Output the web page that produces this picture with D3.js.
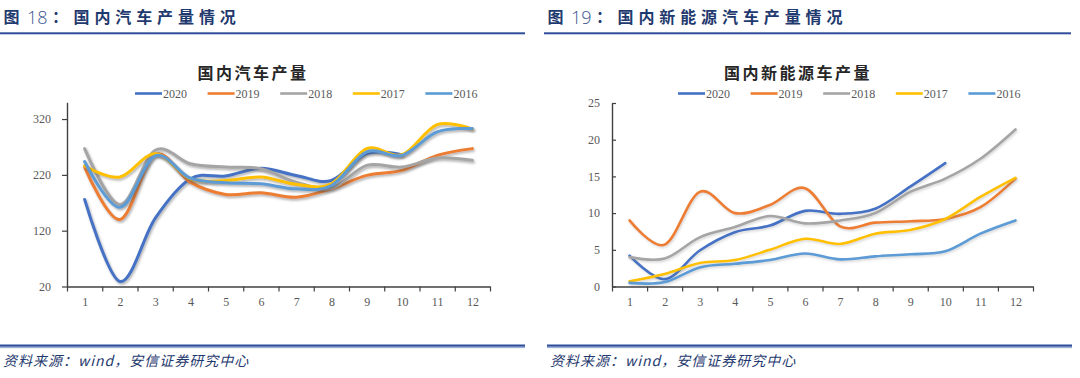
<!DOCTYPE html>
<html>
<head>
<meta charset="utf-8">
<script src="https://cdn.jsdelivr.net/npm/d3@7/dist/d3.min.js"></script>
<style>
  html, body { margin: 0; padding: 0; background: #ffffff; }
  svg { display: block; }
</style>
</head>
<body>
<svg id="chart" width="1080" height="378"></svg>
<script>
// ---------- DATA ----------
const months = [1, 2, 3, 4, 5, 6, 7, 8, 9, 10, 11, 12];
const seriesNames = ["2020", "2019", "2018", "2017", "2016"];
const seriesColors = ["#4472C4", "#ED7D31", "#A5A5A5", "#FFC000", "#5B9BD5"];

// 国内汽车产量 (万辆)
const car2020 = [176, 29, 142, 213, 218, 232, 219, 210, 258, 256];
const car2019 = [234, 140, 256, 207, 185, 188, 180, 195, 219, 228, 255, 267];
const car2018 = [267, 167, 264, 240, 234, 231, 207, 196, 237, 234, 250, 246];
const car2017 = [236, 216, 258, 213, 210, 216, 203, 204, 267, 256, 310, 302];
const car2016 = [244, 162, 254, 214, 206, 204, 195, 201, 261, 255, 297, 303];
const carTicks = [20, 120, 220, 320];

// 国内新能源车产量 (万辆)
const nev2020 = [4.2, 1.0, 4.9, 7.4, 8.3, 10.3, 9.9, 10.6, 13.6, 16.8];
const nev2019 = [9.0, 5.7, 12.9, 10.0, 11.1, 13.4, 8.2, 8.7, 8.9, 9.2, 10.8, 14.7];
const nev2018 = [4.0, 3.8, 6.7, 8.1, 9.6, 8.6, 9.0, 10.0, 12.9, 14.7, 17.4, 21.4];
const nev2017 = [0.7, 1.7, 3.2, 3.6, 5.0, 6.5, 5.8, 7.2, 7.7, 9.2, 12.2, 14.8];
const nev2016 = [0.5, 0.6, 2.6, 3.1, 3.6, 4.5, 3.7, 4.1, 4.4, 4.8, 7.2, 9.0];
const nevTicks = [0, 5, 10, 15, 20, 25];

const carSeries = [car2020, car2019, car2018, car2017, car2016];
const nevSeries = [nev2020, nev2019, nev2018, nev2017, nev2016];

// ---------- DRAW ----------
const svg = d3.select("#chart");
const navy = "#1F3A6E";
const cjk = "'Noto Sans CJK SC', 'Noto Sans', sans-serif";
const serif = "'Liberation Serif', 'DejaVu Serif', serif";

const defs = svg.append("defs");
const f = defs.append("filter").attr("id", "shadow").attr("x", "-10%").attr("y", "-10%").attr("width", "120%").attr("height", "130%");
f.append("feDropShadow").attr("dx", 1.2).attr("dy", 1.8).attr("stdDeviation", 1.3)
  .attr("flood-color", "#555").attr("flood-opacity", 0.45);
const f2 = defs.append("filter").attr("id", "shadow2").attr("x", "-10%").attr("y", "-10%").attr("width", "120%").attr("height", "130%");
f2.append("feDropShadow").attr("dx", 1).attr("dy", 1.5).attr("stdDeviation", 1.1)
  .attr("flood-color", "#777").attr("flood-opacity", 0.3);

function header(x0, x1, num, title) {
  const g = svg.append("g").attr("font-family", cjk).attr("fill", navy);
  g.append("text").attr("x", x0 + 3.5).attr("y", 23).attr("font-size", 16).attr("font-weight", 700).text("图");
  g.append("text").attr("x", x0 + 27).attr("y", 23.5).attr("font-size", 18)
    .attr("font-family", "'Open Sans', 'DejaVu Sans', sans-serif").attr("font-weight", 300)
    .attr("fill", "#3A5590").text(num);
  g.append("text").attr("x", x0 + 52).attr("y", 23).attr("font-size", 16).attr("font-weight", 700).text("：");
  g.append("text").attr("x", x0 + 73.5).attr("y", 23).attr("font-size", 16).attr("font-weight", 700)
    .attr("letter-spacing", 4.9).text(title);
  svg.append("rect").attr("x", x0).attr("y", 32.3).attr("width", x1 - x0).attr("height", 2).attr("fill", "#2F4E9A");
}

function footer(x0, x1) {
  svg.append("rect").attr("x", x0).attr("y", 344.5).attr("width", x1 - x0).attr("height", 2.2).attr("fill", "#2F4E9A");
  svg.append("rect").attr("x", x0).attr("y", 347.3).attr("width", x1 - x0).attr("height", 0.8).attr("fill", "#6F8CC8");
  svg.append("text").attr("x", x0 + 3).attr("y", 366)
    .attr("font-family", cjk).attr("font-size", 14).attr("font-style", "italic")
    .attr("letter-spacing", 1).attr("fill", navy).text("资料来源：wind，安信证券研究中心");
}

function chart(opts) {
  const { left, right, top, bottom, domain, ticks, series, title, titleX, legendX, yTickInner, shadow, lw } = opts;
  const g = svg.append("g");
  const x = d3.scaleLinear().domain([0.5, 12.5]).range([left, right]);
  const y = d3.scaleLinear().domain(domain).range([bottom, top]);

  // title
  g.append("text").attr("x", titleX).attr("y", 79).attr("text-anchor", "middle")
    .attr("font-family", cjk).attr("font-weight", 700).attr("font-size", 16)
    .attr("letter-spacing", 2.5).attr("fill", "#262626").text(title);

  // legend
  seriesNames.forEach((n, i) => {
    const lx = legendX + i * 72.6;
    g.append("line").attr("x1", lx).attr("x2", lx + 27).attr("y1", 93.5).attr("y2", 93.5)
      .attr("stroke", seriesColors[i]).attr("stroke-width", 2.6);
    g.append("text").attr("x", lx + 28).attr("y", 97.5)
      .attr("font-family", serif).attr("font-size", 12).attr("fill", "#595959").text(n);
  });

  // lines
  const line = d3.line().x((d, i) => x(months[i])).y(d => y(d)).curve(d3.curveCardinal.tension(0));
  series.forEach((s, i) => {
    g.append("path").attr("d", line(s)).attr("fill", "none")
      .attr("stroke", seriesColors[i]).attr("stroke-width", lw)
      .attr("stroke-linecap", "round").attr("stroke-linejoin", "round")
      .attr("filter", `url(#${shadow})`);
  });

  // x axis: tick marks between categories
  const xa = g.append("g").attr("transform", `translate(0,${bottom})`)
    .call(d3.axisBottom(x).tickValues(d3.range(0.5, 13, 1)).tickFormat("").tickSize(5).tickSizeOuter(0));
  const xl = g.append("g").attr("transform", `translate(0,${bottom})`)
    .call(d3.axisBottom(x).tickValues(months).tickFormat(d3.format("d")).tickSize(0).tickPadding(11));
  xl.select(".domain").remove();

  // y axis
  const ya = g.append("g").attr("transform", `translate(${left},0)`)
    .call(d3.axisLeft(y).tickValues(ticks).tickFormat(d3.format("d"))
      .tickSize(yTickInner ? -4 : 5).tickPadding(yTickInner ? 12 : 11).tickSizeOuter(0));

  [xa, xl, ya].forEach(a => {
    a.selectAll(".domain").attr("stroke", "#404040").attr("stroke-width", 1.4);
    a.selectAll(".tick line").attr("stroke", "#404040").attr("stroke-width", 1.2);
    a.selectAll("text").attr("font-family", serif).attr("font-size", 12).attr("fill", "#595959");
  });
}

header(0, 525, "18", "国内汽车产量情况");
header(544, 1071, "19", "国内新能源汽车产量情况");

chart({ left: 67, right: 490, top: 102.3, bottom: 286.5, domain: [20, 350], ticks: carTicks,
  series: carSeries, title: "国内汽车产量", titleX: 253, legendX: 135, yTickInner: false, shadow: "shadow", lw: 3 });
chart({ left: 612, right: 1033, top: 103, bottom: 286.5, domain: [0, 25], ticks: nevTicks,
  series: nevSeries, title: "国内新能源车产量", titleX: 798, legendX: 678, yTickInner: true, shadow: "shadow2", lw: 2.6 });

footer(0, 525);
footer(547, 1072);
</script>
</body>
</html>
